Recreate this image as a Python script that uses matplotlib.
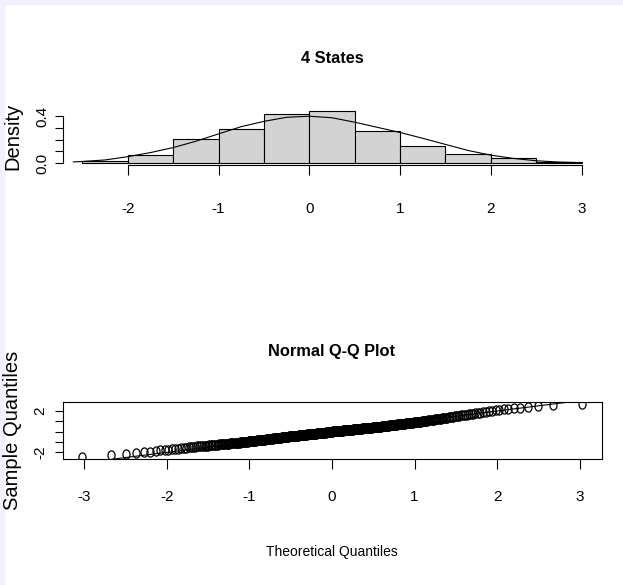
import statistics
import numpy as np
import matplotlib
matplotlib.use("Agg")
import matplotlib.pyplot as plt
from matplotlib.markers import MarkerStyle
from matplotlib.patches import Rectangle
from matplotlib.transforms import Affine2D

values_bin_m25 = [-2.46, -2.28, -2.20, -2.07]
values_bin_m20 = [-1.99, -1.92, -1.87, -1.82, -1.77, -1.73, -1.70, -1.66, -1.63, -1.60,
                  -1.57, -1.55, -1.52]
values_bin_m15 = [-1.49, -1.47, -1.45, -1.43, -1.42, -1.40, -1.38, -1.37, -1.35, -1.34,
                  -1.32, -1.31, -1.30, -1.28, -1.27, -1.26, -1.25, -1.23, -1.22, -1.21,
                  -1.20, -1.19, -1.18, -1.17, -1.16, -1.15, -1.14, -1.13, -1.12, -1.11,
                  -1.10, -1.09, -1.08, -1.07, -1.06, -1.05, -1.04, -1.03, -1.03, -1.02,
                  -1.01]
values_bin_m10 = [-0.99, -0.98, -0.97, -0.96, -0.95, -0.94, -0.93, -0.92, -0.91, -0.90,
                  -0.89, -0.88, -0.87, -0.86, -0.85, -0.84, -0.83, -0.83, -0.82, -0.81,
                  -0.80, -0.79, -0.78, -0.77, -0.76, -0.76, -0.75, -0.74, -0.73, -0.72,
                  -0.71, -0.71, -0.70, -0.69, -0.68, -0.67, -0.67, -0.66, -0.65, -0.64,
                  -0.64, -0.63, -0.62, -0.61, -0.61, -0.60, -0.59, -0.58, -0.58, -0.57,
                  -0.56, -0.55, -0.55, -0.54, -0.53, -0.53, -0.52, -0.51]
values_bin_m05 = [-0.49, -0.48, -0.48, -0.47, -0.46, -0.46, -0.45, -0.45, -0.44, -0.43,
                  -0.43, -0.42, -0.42, -0.41, -0.40, -0.40, -0.39, -0.38, -0.38, -0.37,
                  -0.37, -0.36, -0.35, -0.35, -0.34, -0.34, -0.33, -0.32, -0.32, -0.31,
                  -0.31, -0.30, -0.30, -0.29, -0.28, -0.28, -0.27, -0.27, -0.26, -0.26,
                  -0.25, -0.24, -0.24, -0.23, -0.23, -0.22, -0.22, -0.21, -0.20, -0.20,
                  -0.19, -0.19, -0.18, -0.18, -0.17, -0.16, -0.16, -0.15, -0.15, -0.14,
                  -0.14, -0.13, -0.13, -0.12, -0.11, -0.11, -0.10, -0.10, -0.09, -0.09,
                  -0.08, -0.08, -0.07, -0.06, -0.06, -0.05, -0.05, -0.04, -0.04, -0.03,
                  -0.03, -0.02, -0.02, -0.01]
values_bin_p00 = [0.01, 0.02, 0.02, 0.03, 0.03, 0.04, 0.04, 0.05, 0.05, 0.06,
                  0.06, 0.07, 0.07, 0.08, 0.08, 0.09, 0.09, 0.10, 0.10, 0.11,
                  0.11, 0.12, 0.12, 0.13, 0.13, 0.14, 0.14, 0.15, 0.15, 0.16,
                  0.16, 0.17, 0.17, 0.18, 0.18, 0.19, 0.20, 0.20, 0.21, 0.21,
                  0.22, 0.22, 0.23, 0.23, 0.24, 0.24, 0.25, 0.25, 0.26, 0.26,
                  0.27, 0.27, 0.28, 0.29, 0.29, 0.30, 0.30, 0.31, 0.31, 0.32,
                  0.32, 0.33, 0.33, 0.34, 0.35, 0.35, 0.36, 0.36, 0.37, 0.37,
                  0.38, 0.38, 0.39, 0.40, 0.40, 0.41, 0.41, 0.42, 0.42, 0.43,
                  0.44, 0.44, 0.45, 0.45, 0.46, 0.47, 0.47, 0.48, 0.48, 0.49]
values_bin_p05 = [0.51, 0.52, 0.53, 0.53, 0.54, 0.55, 0.55, 0.56, 0.57, 0.58,
                  0.59, 0.59, 0.60, 0.61, 0.62, 0.63, 0.63, 0.64, 0.65, 0.66,
                  0.67, 0.67, 0.68, 0.69, 0.70, 0.71, 0.72, 0.73, 0.74, 0.74,
                  0.75, 0.76, 0.77, 0.78, 0.79, 0.80, 0.81, 0.82, 0.83, 0.84,
                  0.84, 0.85, 0.86, 0.87, 0.88, 0.89, 0.90, 0.91, 0.92, 0.94,
                  0.95, 0.96, 0.97, 0.98, 0.99]
values_bin_p10 = [1.01, 1.02, 1.04, 1.05, 1.07, 1.08, 1.09, 1.11, 1.12, 1.14,
                  1.15, 1.17, 1.19, 1.20, 1.22, 1.24, 1.25, 1.27, 1.29, 1.31,
                  1.32, 1.34, 1.36, 1.38, 1.40, 1.42, 1.45, 1.47, 1.49]
values_bin_p15 = [1.52, 1.54, 1.57, 1.60, 1.62, 1.65, 1.68, 1.71, 1.75, 1.78,
                  1.81, 1.85, 1.89, 1.93, 1.98]
values_bin_p20 = [2.03, 2.08, 2.13, 2.18, 2.23, 2.28, 2.33, 2.39, 2.46]
values_bin_p25 = [2.56, 2.64]

hist_breaks = [-2.5, -2.0, -1.5, -1.0, -0.5, 0.0, 0.5, 1.0, 1.5, 2.0, 2.5, 3.0]

# normal density curve drawn over the histogram
curve_x = [-2.6, -2.5, -2.25, -2.0, -1.75, -1.5, -1.25, -1.0, -0.75, -0.5, -0.25, 0.0,
           0.25, 0.5, 0.75, 1.0, 1.25, 1.5, 1.75, 2.0, 2.25, 2.5, 2.75, 2.95]
curve_y = [0.010, 0.014, 0.027, 0.055, 0.090, 0.133, 0.187, 0.250, 0.312, 0.357, 0.392, 0.401,
           0.388, 0.350, 0.306, 0.262, 0.212, 0.160, 0.108, 0.068, 0.040, 0.020, 0.009, 0.005]

# reference line on the Q-Q plot
qq_line_intercept = 0.0
qq_line_slope = 1.0

hist_ticks = [-2, -1, 0, 1, 2, 3]
density_ticks = [0.0, 0.1, 0.2, 0.3, 0.4]
density_labels = ["0.0", "", "", "", "0.4"]
qq_x_ticks = [-3, -2, -1, 0, 1, 2, 3]
qq_y_ticks = [-2, -1, 0, 1, 2]
qq_y_labels = ["-2", "", "", "", "2"]

sample = np.sort(np.concatenate([values_bin_m25, values_bin_m20, values_bin_m15, values_bin_m10,
                                 values_bin_m05, values_bin_p00, values_bin_p05, values_bin_p10,
                                 values_bin_p15, values_bin_p20, values_bin_p25]))
n = len(sample)
theoretical = np.array([statistics.NormalDist().inv_cdf((i - 0.5) / n) for i in range(1, n + 1)])

W, H = 623, 585
SANS = ["Liberation Sans", "DejaVu Sans"]

fig = plt.figure(figsize=(W / 100, H / 100), dpi=100)
fig.patch.set_facecolor("white")

# thin lavender frame along the left and top edges
fig.add_artist(Rectangle((0, 0), 3.5 / W, 1, transform=fig.transFigure, color="#f1f1fd", zorder=0))
fig.add_artist(Rectangle((0, 1 - 3.5 / H), 1, 3.5 / H, transform=fig.transFigure, color="#f1f1fd", zorder=0))


def px_box(left, top, right, bottom):
    return [left / W, 1 - bottom / H, (right - left) / W, (bottom - top) / H]


# --- histogram panel ---
ax1 = fig.add_axes(px_box(62.5, 108.4, 601.5, 165.2))
heights, _, _ = ax1.hist(sample, bins=hist_breaks, density=True, color="#d3d3d3",
                         edgecolor="black", linewidth=0.8)
ax1.plot(curve_x, curve_y, color="black", linewidth=0.8)

span = hist_breaks[-1] - hist_breaks[0]
ax1.set_xlim(hist_breaks[0] - 0.04 * span, hist_breaks[-1] + 0.04 * span)
ymax = heights.max()
ax1.set_ylim(-0.04 * ymax, 1.04 * ymax)

for side in ["top", "right"]:
    ax1.spines[side].set_visible(False)
ax1.spines["left"].set_bounds(density_ticks[0], density_ticks[-1])
ax1.spines["bottom"].set_bounds(hist_ticks[0], hist_ticks[-1])
for side in ["left", "bottom"]:
    ax1.spines[side].set_linewidth(0.8)

ax1.set_xticks(hist_ticks, labels=[str(t) for t in hist_ticks], fontsize=11, fontfamily=SANS)
ax1.set_yticks(density_ticks, labels=density_labels, fontsize=11, fontfamily=SANS,
               rotation=90, va="center")
ax1.tick_params(axis="x", length=7.2, width=0.8, pad=19)
ax1.tick_params(axis="y", length=5.8, width=0.8, pad=4)

fig.text(332 / W, 1 - 58.5 / H, "4 States", ha="center", va="center",
         fontsize=11.8, fontweight="bold", family=SANS)
fig.text(13 / W, 1 - 136.8 / H, "Density", rotation=90, ha="center", va="center",
         fontsize=14.5, family=SANS)

# --- normal Q-Q panel ---
ax2 = fig.add_axes(px_box(62.5, 402.3, 601.5, 459.2))
# open circles, a little taller than wide as in the source image
tall_circle = MarkerStyle("o", fillstyle="none", transform=Affine2D().scale(0.85, 1.1))
ax2.plot(theoretical, sample, linestyle="none", marker=tall_circle, mec="black", ms=6, mew=0.9)
ax2.axline((0, qq_line_intercept), slope=qq_line_slope, color="black", linewidth=0.8)

xr = theoretical.max() - theoretical.min()
ax2.set_xlim(theoretical.min() - 0.04 * xr, theoretical.max() + 0.04 * xr)
yr = sample.max() - sample.min()
ax2.set_ylim(sample.min() - 0.04 * yr, sample.max() + 0.04 * yr)

for side in ax2.spines:
    ax2.spines[side].set_linewidth(0.8)

ax2.set_xticks(qq_x_ticks, labels=[str(t) for t in qq_x_ticks], fontsize=11, fontfamily=SANS)
ax2.set_yticks(qq_y_ticks, labels=qq_y_labels, fontsize=11, fontfamily=SANS,
               rotation=90, va="center")
ax2.tick_params(axis="x", length=7.2, width=0.8, pad=15)
ax2.tick_params(axis="y", length=5.8, width=0.8, pad=5)

fig.text(332 / W, 1 - 351.7 / H, "Normal Q-Q Plot", ha="center", va="center",
         fontsize=11.8, fontweight="bold", family=SANS)
fig.text(332 / W, 1 - 551.7 / H, "Theoretical Quantiles", ha="center", va="center",
         fontsize=10, family=SANS)
fig.text(13 / W, 1 - 430.7 / H, "Sample Quantiles", rotation=90, ha="center", va="center",
         fontsize=14.5, family=SANS)

fig.savefig("out.png", dpi=100)
